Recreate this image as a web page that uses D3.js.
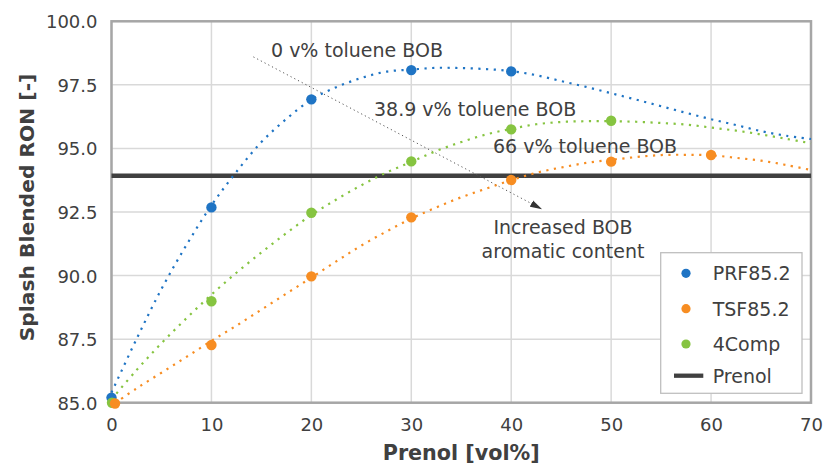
<!DOCTYPE html>
<html>
<head>
<meta charset="utf-8">
<script src="https://cdn.jsdelivr.net/npm/d3@7"></script>
<style>
  html, body { margin: 0; padding: 0; background: #fff; }
  svg { display: block; }
</style>
</head>
<body>
<svg id="chart" width="828" height="466"></svg>
<script>
// ---------------- data ----------------
const xTickValues = [0, 10, 20, 30, 40, 50, 60, 70];
const yTickValues = [85, 87.5, 90, 92.5, 95, 97.5, 100];

const seriesNames = ["PRF85.2", "TSF85.2", "4Comp", "Prenol"];

const prfX = [0, 10, 20, 30, 40];
const prfY = [85.2, 92.68, 96.93, 98.08, 98.03];

const tsfX = [0.35, 10, 20, 30, 40, 50, 60];
const tsfY = [84.97, 87.27, 89.97, 92.29, 93.76, 94.48, 94.74];

const compX = [0.05, 10, 20, 30, 40, 50];
const compY = [85.0, 88.99, 92.47, 94.49, 95.75, 96.09];

const prenolRON = 93.93;

// trendlines
const trendX = [0, 2.5, 5, 7.5, 10, 12.5, 15, 17.5, 20, 22.5, 25, 27.5, 30, 32.5, 35,
                37.5, 40, 42.5, 45, 47.5, 50, 52.5, 55, 57.5, 60, 62.5, 65, 67.5, 70];
const prfTrend = [85.4, 87.5, 89.47, 91.2, 92.76, 94.08, 95.25, 96.16, 96.92, 97.41, 97.77, 98.02, 98.1, 98.17, 98.16,
                  98.12, 98.04, 97.88, 97.65, 97.42, 97.17, 96.92, 96.66, 96.4, 96.15, 95.92, 95.68, 95.5, 95.37];
const compTrend = [85.13, 86.28, 87.34, 88.32, 89.25, 90.11, 90.91, 91.67, 92.38, 92.99, 93.55, 94.05, 94.47, 94.9, 95.25,
                   95.55, 95.77, 95.95, 96.04, 96.07, 96.07, 96.05, 96.0, 95.94, 95.82, 95.7, 95.55, 95.38, 95.2];
const tsfTrendX = [0.35, 2.5, 5, 7.5, 10, 12.5, 15, 17.5, 20, 22.5, 25, 27.5, 30, 32.5, 35,
                   37.5, 40, 42.5, 45, 47.5, 50, 52.5, 55, 57.5, 60, 62.5, 65, 67.5, 70];
const tsfTrend = [84.98, 85.56, 86.18, 86.8, 87.43, 88.03, 88.66, 89.29, 89.92, 90.56, 91.18, 91.73, 92.24, 92.68, 93.08,
                  93.42, 93.75, 94.04, 94.25, 94.43, 94.55, 94.66, 94.74, 94.75, 94.73, 94.63, 94.52, 94.35, 94.15];

// annotations
const annoLabels = ["0 v% toluene BOB", "38.9 v% toluene BOB", "66 v% toluene BOB"];
const annoArrowText = ["Increased BOB", "aromatic content"];

// ---------------- chart ----------------
const colors = { prf: "#1F74C4", tsf: "#F78D22", comp: "#86C441", prenol: "#404040" };
const textColor = "#404040";
const FONT = "'DejaVu Sans', sans-serif";

const svg = d3.select("#chart");
const x = d3.scaleLinear().domain([0, 70]).range([111.5, 811]);
const y = d3.scaleLinear().domain([85, 100]).range([402.7, 21.3]);

// gridlines
const grid = svg.append("g");
grid.selectAll("line.h").data(yTickValues).join("line")
  .attr("x1", x(0)).attr("x2", x(70))
  .attr("y1", d => y(d)).attr("y2", d => y(d))
  .attr("stroke", "#d9d9d9").attr("stroke-width", 1.5);
grid.selectAll("line.v").data(xTickValues).join("line")
  .attr("y1", y(85)).attr("y2", y(100))
  .attr("x1", d => x(d)).attr("x2", d => x(d))
  .attr("stroke", "#d9d9d9").attr("stroke-width", 1.5);

// axes
const xAxis = svg.append("g").attr("transform", `translate(0,${y(85)})`)
  .call(d3.axisBottom(x).tickValues(xTickValues).tickSize(0).tickPadding(12).tickFormat(d3.format("d")));
const yAxis = svg.append("g").attr("transform", `translate(${x(0)},0)`)
  .call(d3.axisLeft(y).tickValues(yTickValues).tickSize(0).tickPadding(14).tickFormat(d3.format(".1f")));
[xAxis, yAxis].forEach(a => {
  a.select(".domain").remove();
  a.selectAll("text").attr("fill", textColor).style("font-family", FONT).style("font-size", "18px");
});
yAxis.selectAll("text").attr("dy", "0.36em");
xAxis.selectAll("text").attr("dy", "0.9em");

// plot border
svg.append("rect")
  .attr("x", x(0)).attr("y", y(100))
  .attr("width", x(70) - x(0)).attr("height", y(85) - y(100))
  .attr("fill", "none").attr("stroke", "#a6a6a6").attr("stroke-width", 2.5);

// prenol line
svg.append("line")
  .attr("x1", x(0)).attr("x2", x(70))
  .attr("y1", y(prenolRON)).attr("y2", y(prenolRON))
  .attr("stroke", colors.prenol).attr("stroke-width", 4.5);

// annotation arrow
const defs = svg.append("defs");
defs.append("marker").attr("id", "arrow")
  .attr("viewBox", "0 0 12 8").attr("refX", 11).attr("refY", 4)
  .attr("markerWidth", 12).attr("markerHeight", 8).attr("markerUnits", "userSpaceOnUse")
  .attr("orient", "auto")
  .append("path").attr("d", "M0,0.5 L12,4 L0,7.5 Z").attr("fill", "#333");
svg.append("line")
  .attr("x1", x(14.2)).attr("y1", y(98.6))
  .attr("x2", x(43.0)).attr("y2", y(92.63))
  .attr("stroke", "#555").attr("stroke-width", 1)
  .attr("stroke-dasharray", "1.2,3")
  .attr("marker-end", "url(#arrow)");

// trendlines
const line = d3.line().x(d => x(d[0])).y(d => y(d[1])).curve(d3.curveCatmullRom.alpha(0.5));
const trends = [
  { xs: trendX, ys: prfTrend, c: colors.prf },
  { xs: trendX, ys: compTrend, c: colors.comp },
  { xs: tsfTrendX, ys: tsfTrend, c: colors.tsf }
];
svg.append("g").selectAll("path").data(trends).join("path")
  .attr("d", d => line(d.xs.map((v, i) => [v, d.ys[i]])))
  .attr("fill", "none").attr("stroke", d => d.c)
  .attr("stroke-width", 2.2).attr("stroke-dasharray", "2.2,5.5");

// markers
const pts = [
  { xs: prfX, ys: prfY, c: colors.prf },
  { xs: compX, ys: compY, c: colors.comp },
  { xs: tsfX, ys: tsfY, c: colors.tsf }
];
pts.forEach(s => {
  svg.append("g").selectAll("circle").data(s.xs.map((v, i) => [v, s.ys[i]])).join("circle")
    .attr("cx", d => x(d[0])).attr("cy", d => y(d[1])).attr("r", 5.2).attr("fill", s.c);
});

// annotation labels
const annoPos = [[271, 56.7], [374, 116], [493, 153.3]];
svg.append("g").selectAll("text").data(annoLabels).join("text")
  .attr("x", (d, i) => annoPos[i][0]).attr("y", (d, i) => annoPos[i][1])
  .text(d => d)
  .attr("fill", textColor).style("font-family", FONT).style("font-size", "19px");
svg.append("g").selectAll("text").data(annoArrowText).join("text")
  .attr("x", 563).attr("y", (d, i) => 234.3 + i * 23.6)
  .attr("text-anchor", "middle")
  .text(d => d)
  .attr("fill", textColor).style("font-family", FONT).style("font-size", "19px");

// axis titles
svg.append("text")
  .attr("transform", `translate(34,${207.5}) rotate(-90)`)
  .attr("text-anchor", "middle")
  .text("Splash Blended RON [-]")
  .attr("fill", textColor).style("font-family", FONT).style("font-weight", "bold").style("font-size", "20.3px");
svg.append("text")
  .attr("x", (x(0) + x(70)) / 2).attr("y", 459.5)
  .attr("text-anchor", "middle")
  .text("Prenol [vol%]")
  .attr("fill", textColor).style("font-family", FONT).style("font-weight", "bold").style("font-size", "20.7px");

// legend
const lg = svg.append("g");
lg.append("rect").attr("x", 660.7).attr("y", 252.7).attr("width", 141.3).attr("height", 140.6)
  .attr("fill", "#fff").attr("stroke", "#bfbfbf").attr("stroke-width", 1.3);
const legendColors = [colors.prf, colors.tsf, colors.comp, colors.prenol];
const rowY = [273.3, 308.7, 344, 375.7];
seriesNames.forEach((name, i) => {
  if (i < 3) {
    lg.append("circle").attr("cx", 686).attr("cy", rowY[i]).attr("r", 4.6).attr("fill", legendColors[i]);
  } else {
    lg.append("line").attr("x1", 674).attr("x2", 703.3).attr("y1", rowY[i]).attr("y2", rowY[i])
      .attr("stroke", legendColors[i]).attr("stroke-width", 4.3);
  }
  lg.append("text").attr("x", 712.7).attr("y", rowY[i]).attr("dy", "0.36em")
    .text(name).attr("fill", textColor).style("font-family", FONT).style("font-size", "19px");
});
</script>
</body>
</html>
